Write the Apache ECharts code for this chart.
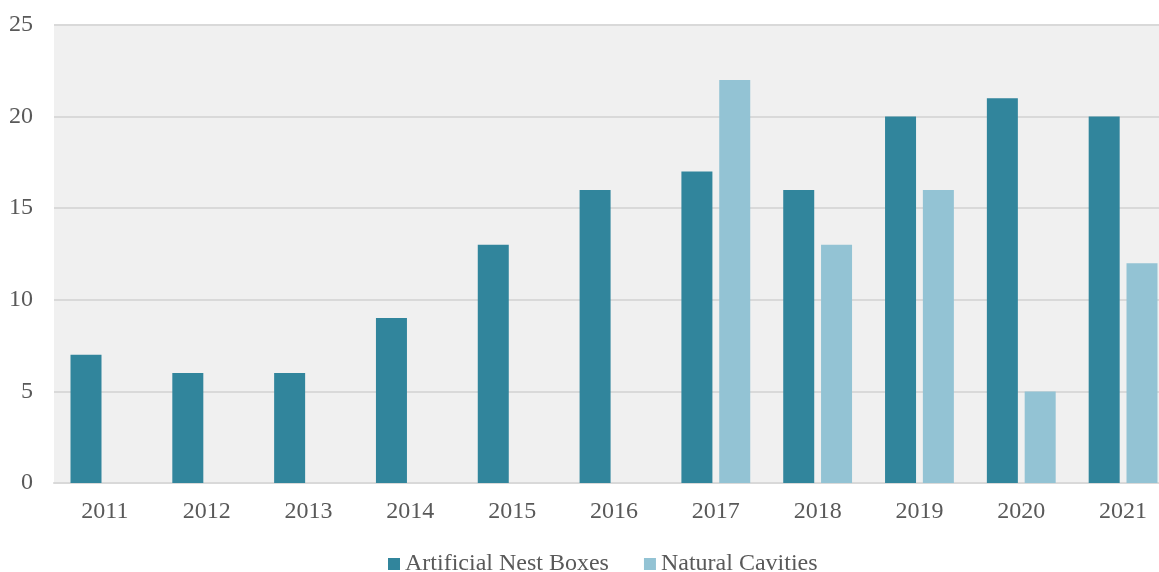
<!DOCTYPE html>
<html><head><meta charset="utf-8">
<script src="https://cdn.jsdelivr.net/npm/echarts@6/dist/echarts.min.js"></script>
<style>html,body{margin:0;padding:0;background:#fff;overflow:hidden;width:1159px;height:572px}#c{width:1174px;height:572px}</style>
</head><body><div id="c"></div>
<script>
const categories = ['2011','2012','2013','2014','2015','2016','2017','2018','2019','2020','2021'];
const artificialNestBoxes = [7,6,6,9,13,16,17,16,20,21,20];
const naturalCavities = [0,0,0,0,0,0,22,13,16,5,12];
const yTicks = [0,5,10,15,20,25];

const chart = echarts.init(document.getElementById('c'), null, {renderer:'canvas'});
const font = "'Liberation Serif','Times New Roman',serif";
chart.setOption({
  animation:false,
  textStyle:{fontFamily:font},
  grid:{left:54, top:25, right:0, height:458, show:true, backgroundColor:'#f0f0f0', borderWidth:0},
  legend:{
    top:547, left:383, itemWidth:12, itemHeight:12, itemGap:35, icon:'rect',
    textStyle:{fontFamily:font, fontSize:24, color:'#595959'},
    data:['Artificial Nest Boxes','Natural Cavities']
  },
  xAxis:{
    type:'category', data:categories,
    axisLine:{lineStyle:{color:'#d9d9d9', width:2}},
    axisTick:{show:false},
    axisLabel:{fontFamily:font, fontSize:24, color:'#595959', margin:17}
  },
  yAxis:{
    type:'value', min:yTicks[0], max:yTicks[yTicks.length-1], interval:5,
    axisLine:{show:false}, axisTick:{show:false},
    splitLine:{lineStyle:{color:'#d9d9d9', width:2}},
    axisLabel:{fontFamily:font, fontSize:24, color:'#595959', margin:21}
  },
  series:[
    {name:'Artificial Nest Boxes', type:'bar', data:artificialNestBoxes, barWidth:31, barGap:'22%',
     itemStyle:{color:'#31859c'}},
    {name:'Natural Cavities', type:'bar', data:naturalCavities, barWidth:31,
     itemStyle:{color:'#93c3d4'}}
  ]
});
</script></body></html>
